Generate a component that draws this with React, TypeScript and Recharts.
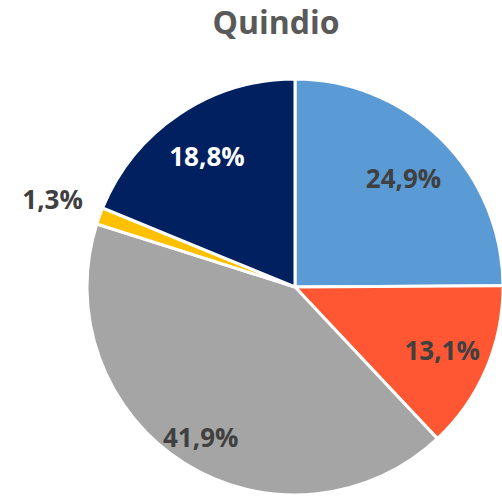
import { PieChart, Pie, Cell } from 'recharts';

const regions = ['A', 'B', 'C', 'D', 'E'];
const shares = [24.9, 13.1, 41.9, 1.3, 18.8];
const sliceColors = ['#5b9bd5', '#ff5733', '#a5a5a5', '#ffc000', '#002060'];
const labelColors = ['#404040', '#404040', '#404040', '#404040', '#ffffff'];
// label distance from centre, as a share of the radius (best-fit placement)
const labelRadius = [0.74, 0.77, 0.85, 1.24, 0.76];

const data = regions.map((name, i) => ({ name, value: shares[i] }));

const RAD = Math.PI / 180;

function renderLabel(props: any) {
  const { cx, cy, midAngle, outerRadius, value, index } = props;
  const r = outerRadius * labelRadius[index];
  const x = cx + r * Math.cos(-midAngle * RAD);
  const y = cy + r * Math.sin(-midAngle * RAD);
  return (
    <text
      x={x}
      y={y}
      textAnchor="middle"
      dominantBaseline="central"
      fontSize={26}
      fontWeight="bold"
      fontFamily="'Open Sans', sans-serif"
      fill={labelColors[index]}
    >
      {value.toFixed(1).replace('.', ',')}%
    </text>
  );
}

export default function App() {
  return (
    <div style={{ position: 'absolute', left: 0, top: 0, width: 502, height: 498, background: '#fff' }}>
      <div
        style={{
          position: 'absolute',
          left: 0,
          top: 0,
          width: 552,
          textAlign: 'center',
          fontFamily: "'Open Sans', sans-serif",
          fontWeight: 'bold',
          fontSize: 32,
          color: '#595959',
        }}
      >
        Quindio
      </div>
      <PieChart width={502} height={498} margin={{ top: 0, right: 0, bottom: 0, left: 0 }}>
        <Pie
          data={data}
          dataKey="value"
          nameKey="name"
          cx={295}
          cy={287}
          outerRadius={208}
          startAngle={90}
          endAngle={-270}
          stroke="#ffffff"
          strokeWidth={3}
          label={renderLabel}
          labelLine={false}
          isAnimationActive={false}
        >
          {data.map((entry, i) => (
            <Cell key={`cell-${i}`} fill={sliceColors[i]} />
          ))}
        </Pie>
      </PieChart>
    </div>
  );
}
